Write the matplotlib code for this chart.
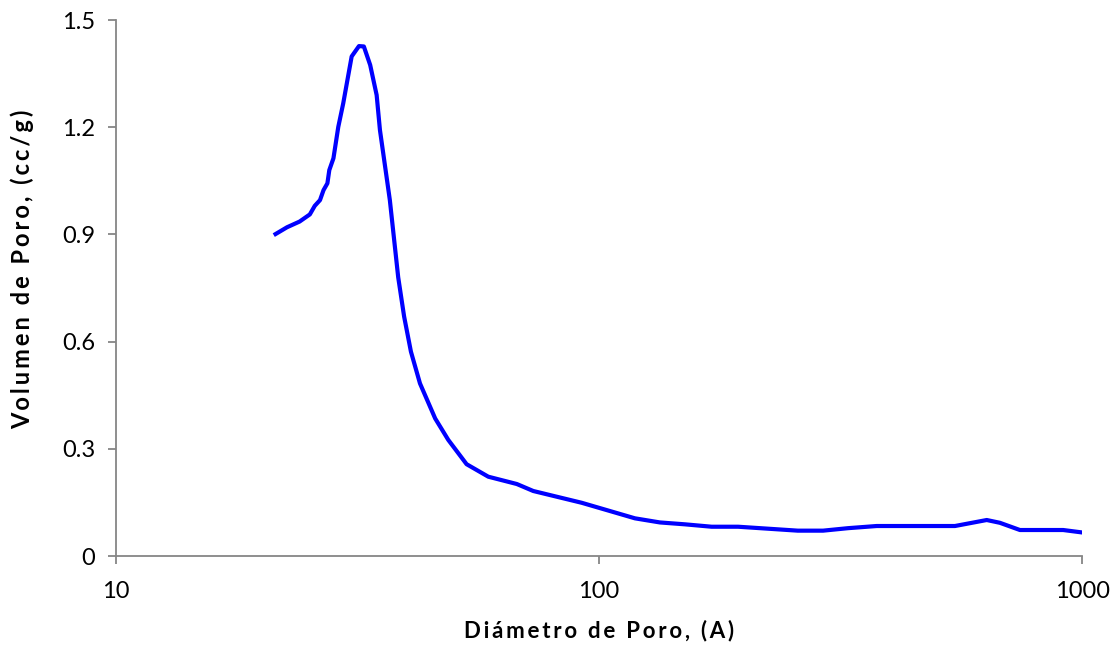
import matplotlib
matplotlib.use("Agg")
import matplotlib.pyplot as plt
from matplotlib.ticker import FixedLocator, FixedFormatter, NullLocator

# pore diameter (A) and pore volume (cc/g)
diametro = [21.4, 22.6, 24.0, 25.2, 25.8, 26.45, 26.9, 27.4, 27.65, 28.2, 28.86,
            29.55, 30.76, 31.85, 32.6, 33.6, 34.65, 35.2, 36.9, 38.4, 39.5,
            40.8, 42.6, 45.8, 48.75, 53.2, 59.0, 67.6, 73.1, 92.1, 118.7,
            133.7, 150.7, 171.1, 194.1, 258.0, 291.0, 328.0, 375.8, 430.0,
            545.6, 634.9, 676.0, 743.8, 914.0, 1000.0]
volumen = [0.901, 0.920, 0.936, 0.956, 0.980, 0.996, 1.024, 1.043, 1.080, 1.113,
           1.201, 1.267, 1.398, 1.427, 1.426, 1.374, 1.290, 1.192, 0.996, 0.780,
           0.670, 0.572, 0.483, 0.385, 0.325, 0.257, 0.222, 0.2015, 0.182,
           0.149, 0.1055, 0.094, 0.0887, 0.082, 0.082, 0.071, 0.071, 0.078,
           0.084, 0.084, 0.084, 0.1008, 0.093, 0.0728, 0.0728, 0.066]

x_ticks = [10, 100, 1000]
x_labels = ["10", "100", "1000"]
y_ticks = [0, 0.3, 0.6, 0.9, 1.2, 1.5]
y_labels = ["0", "0.3", "0.6", "0.9", "1.2", "1.5"]
x_title = "Diámetro de Poro, (A)"
y_title = "Volumen de Poro, (cc/g)"


def spaced(text, sep="\u2009"):
    # loose letter spacing like the original chart titles
    return sep.join(text)


plt.rcParams["font.family"] = ["Lato", "DejaVu Sans"]

fig = plt.figure(figsize=(11.17, 6.54), dpi=100)
ax = fig.add_axes([0.1038, 0.1498, 0.8649, 0.8196])

ax.plot(diametro, volumen, color="#0000FF", linewidth=3.0, solid_joinstyle="round")

ax.set_xscale("log")
ax.set_xlim(10, 1000)
ax.set_ylim(0, 1.5)
ax.xaxis.set_major_locator(FixedLocator(x_ticks))
ax.xaxis.set_major_formatter(FixedFormatter(x_labels))
ax.xaxis.set_minor_locator(NullLocator())
ax.yaxis.set_major_locator(FixedLocator(y_ticks))
ax.yaxis.set_major_formatter(FixedFormatter(y_labels))

for side in ["top", "right"]:
    ax.spines[side].set_visible(False)
for side in ["left", "bottom"]:
    ax.spines[side].set_color("#868686")
    ax.spines[side].set_linewidth(1.3)

ax.tick_params(axis="both", colors="#868686", length=6, width=1.3,
               labelsize=17, labelcolor="black", direction="out")
ax.tick_params(axis="x", pad=12)
ax.tick_params(axis="y", pad=9)

ax.set_xlabel(spaced(x_title), fontsize=16, fontweight="bold", labelpad=13)
ax.set_ylabel(spaced(y_title), fontsize=17, fontweight="bold")
ax.yaxis.set_label_coords(-0.085, 0.535)

fig.savefig("out.png", dpi=100, facecolor="white")
